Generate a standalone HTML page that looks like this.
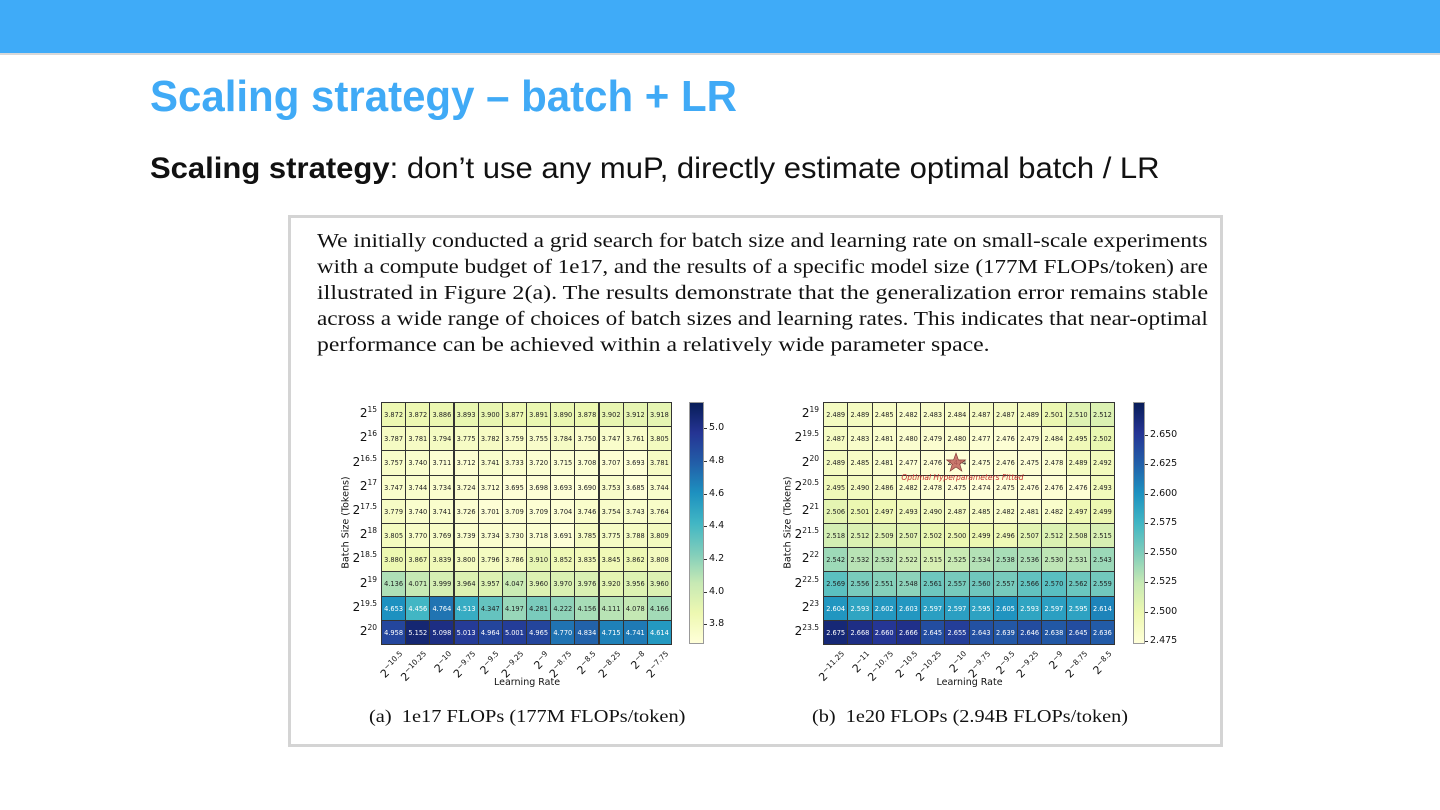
<!DOCTYPE html>
<html><head><meta charset="utf-8">
<style>
body{margin:0;width:1440px;height:810px;background:#fff;position:relative;overflow:hidden;font-family:"Liberation Sans",sans-serif}
.bar{position:absolute;left:0;top:0;width:1440px;height:53px;background:#3fabf8;border-bottom:2px solid #d8d8d8}
.fit{position:absolute;white-space:nowrap;transform-origin:0 50%}
.box{position:absolute;left:288px;top:215px;width:929px;height:526px;border:3px solid #d4d4d4}
.p{font-family:"Liberation Serif",serif;font-size:20px;color:#111}
.cell{position:absolute;box-sizing:border-box;border:1px solid #333;font-size:6.6px;text-align:center;font-family:"DejaVu Sans",sans-serif}
.yl{position:absolute;font-size:12px;font-family:"DejaVu Sans",sans-serif;text-align:right;color:#111}
.yl sup{font-size:7.5px}
.xl{position:absolute;font-size:11px;font-family:"DejaVu Sans",sans-serif;white-space:nowrap;transform-origin:100% 0;transform:rotate(-45deg);color:#111}
.xl sup{font-size:7.5px}
.ax{position:absolute;font-size:9.5px;font-family:"DejaVu Sans",sans-serif;color:#111;white-space:nowrap}
.cb{position:absolute;border:1px solid #999;box-sizing:border-box}
.ct{position:absolute;font-size:9.5px;font-family:"DejaVu Sans",sans-serif;color:#111}
.cap{font-family:"Liberation Serif",serif;font-size:18px;color:#111}
</style></head><body>
<div class="bar"></div>
<div class="fit" data-w="587" style="left:150px;top:72px;font-size:44px;font-weight:bold;color:#40aaf6">Scaling strategy – batch + LR</div>
<div class="fit" data-w="1010" style="left:150px;top:152px;font-size:30px;color:#111"><b>Scaling strategy</b>: don’t use any muP, directly estimate optimal batch / LR</div>
<div class="box"></div>
<div class="fit p" data-w="891" style="left:317px;top:230px">We initially conducted a grid search for batch size and learning rate on small-scale experiments</div>
<div class="fit p" data-w="891" style="left:317px;top:256px">with a compute budget of 1e17, and the results of a specific model size (177M FLOPs/token) are</div>
<div class="fit p" data-w="891" style="left:317px;top:282px">illustrated in Figure 2(a). The results demonstrate that the generalization error remains stable</div>
<div class="fit p" data-w="891" style="left:317px;top:308px">across a wide range of choices of batch sizes and learning rates. This indicates that near-optimal</div>
<div class="fit p" data-w="672" style="left:317px;top:334px">performance can be achieved within a relatively wide parameter space.</div>
<div id="charts"></div>
<div class="fit cap" data-w="317" style="left:369px;top:706px">(a)&nbsp; 1e17 FLOPs (177M FLOPs/token)</div>
<div class="fit cap" data-w="316" style="left:812px;top:706px">(b)&nbsp; 1e20 FLOPs (2.94B FLOPs/token)</div>
<script>
const C=[[255,255,217],[237,248,177],[199,233,180],[127,205,187],[65,182,196],[29,145,192],[34,94,168],[37,52,148],[8,29,88]];
function cm(t){t=Math.max(0,Math.min(1,t))*8;const i=Math.min(7,Math.floor(t)),f=t-i;const a=C[i],b=C[i+1];return 'rgb('+a.map((v,k)=>Math.round(v+(b[k]-v)*f)).join(',')+')';}
const A={x0:381,x1:671,y0:402,y1:644,cbx:689,cbw:15,vmin:3.68,vmax:5.16,
ticks:[3.8,4.0,4.2,4.4,4.6,4.8,5.0],tf:1,
rows:['15','16','16.5','17','17.5','18','18.5','19','19.5','20'],
cols:['−10.5','−10.25','−10','−9.75','−9.5','−9.25','−9','−8.75','−8.5','−8.25','−8','−7.75'],
d:`3.872 3.872 3.886 3.893 3.900 3.877 3.891 3.890 3.878 3.902 3.912 3.918
3.787 3.781 3.794 3.775 3.782 3.759 3.755 3.784 3.750 3.747 3.761 3.805
3.757 3.740 3.711 3.712 3.741 3.733 3.720 3.715 3.708 3.707 3.693 3.781
3.747 3.744 3.734 3.724 3.712 3.695 3.698 3.693 3.690 3.753 3.685 3.744
3.779 3.740 3.741 3.726 3.701 3.709 3.709 3.704 3.746 3.754 3.743 3.764
3.805 3.770 3.769 3.739 3.734 3.730 3.718 3.691 3.785 3.775 3.788 3.809
3.880 3.867 3.839 3.800 3.796 3.786 3.910 3.852 3.835 3.845 3.862 3.808
4.136 4.071 3.999 3.964 3.957 4.047 3.960 3.970 3.976 3.920 3.956 3.960
4.653 4.456 4.764 4.513 4.347 4.197 4.281 4.222 4.156 4.111 4.078 4.166
4.958 5.152 5.098 5.013 4.964 5.001 4.965 4.770 4.834 4.715 4.741 4.614`};
const B={x0:823,x1:1114,y0:402,y1:644,cbx:1133,cbw:12,vmin:2.4725,vmax:2.6775,
ticks:[2.475,2.5,2.525,2.55,2.575,2.6,2.625,2.65],tf:3,
rows:['19','19.5','20','20.5','21','21.5','22','22.5','23','23.5'],
cols:['−11.25','−11','−10.75','−10.5','−10.25','−10','−9.75','−9.5','−9.25','−9','−8.75','−8.5'],
d:`2.489 2.489 2.485 2.482 2.483 2.484 2.487 2.487 2.489 2.501 2.510 2.512
2.487 2.483 2.481 2.480 2.479 2.480 2.477 2.476 2.479 2.484 2.495 2.502
2.489 2.485 2.481 2.477 2.476 2.474 2.475 2.476 2.475 2.478 2.489 2.492
2.495 2.490 2.486 2.482 2.478 2.475 2.474 2.475 2.476 2.476 2.476 2.493
2.506 2.501 2.497 2.493 2.490 2.487 2.485 2.482 2.481 2.482 2.497 2.499
2.518 2.512 2.509 2.507 2.502 2.500 2.499 2.496 2.507 2.512 2.508 2.515
2.542 2.532 2.532 2.522 2.515 2.525 2.534 2.538 2.536 2.530 2.531 2.543
2.569 2.556 2.551 2.548 2.561 2.557 2.560 2.557 2.566 2.570 2.562 2.559
2.604 2.593 2.602 2.603 2.597 2.597 2.595 2.605 2.593 2.597 2.595 2.614
2.675 2.668 2.660 2.666 2.645 2.655 2.643 2.639 2.646 2.638 2.645 2.636`};
let h='';
function draw(P,star){
 const rows=P.d.trim().split('\n').map(r=>r.trim().split(/\s+/));
 const cw=(P.x1-P.x0)/12,ch=(P.y1-P.y0)/10;
 rows.forEach((r,i)=>r.forEach((v,j)=>{const t=(+v-P.vmin)/(P.vmax-P.vmin);
  h+=`<div class="cell" style="left:${(P.x0+j*cw).toFixed(1)}px;top:${(P.y0+i*ch).toFixed(1)}px;width:${(cw+1).toFixed(1)}px;height:${(ch+1).toFixed(1)}px;line-height:${ch}px;background:${cm(t*0.95)};color:${t>0.5?'#fff':'#222'}">${v}</div>`;}));
 P.rows.forEach((r,i)=>{h+=`<div class="yl" style="left:${P.x0-60}px;width:56px;top:${(P.y0+i*ch+ch/2-9).toFixed(1)}px">2<sup>${r}</sup></div>`;});
 P.cols.forEach((c,j)=>{h+=`<div class="xl" style="right:${(1440-(P.x0+j*cw+cw/2+5)).toFixed(1)}px;top:${P.y1+5}px">2<sup>${c}</sup></div>`;});
 h+=`<div class="ax" style="left:${(P.x0+P.x1)/2-32}px;top:${P.y1+33}px">Learning Rate</div>`;
 h+=`<div class="ax" style="left:${P.x0-95}px;top:${(P.y0+P.y1)/2-6}px;transform:rotate(-90deg);transform-origin:50% 50%;width:120px;text-align:center">Batch Size (Tokens)</div>`;
 let g=[];for(let k=0;k<=8;k++)g.push(cm(1-k/8)+' '+(k*12.5)+'%');
 h+=`<div class="cb" style="left:${P.cbx}px;top:${P.y0}px;width:${P.cbw}px;height:${P.y1-P.y0}px;background:linear-gradient(${g.join(',')})"></div>`;
 P.ticks.forEach(t=>{const y=P.y1-(t-P.vmin)/(P.vmax-P.vmin)*(P.y1-P.y0);
  h+=`<div style="position:absolute;left:${P.cbx+P.cbw}px;top:${y.toFixed(1)}px;width:3px;height:1px;background:#333"></div><div class="ct" style="left:${P.cbx+P.cbw+5}px;top:${(y-6).toFixed(1)}px">${t.toFixed(P.tf)}</div>`;});
 if(star){const sx=P.x0+5.5*cw,sy=P.y0+2.5*ch;
  h+=`<svg style="position:absolute;left:${sx-11}px;top:${sy-11}px" width="22" height="22" viewBox="-11 -11 22 22"><polygon points="0,-10 2.4,-3.2 9.5,-3.1 3.8,1.2 5.9,8.1 0,4 -5.9,8.1 -3.8,1.2 -9.5,-3.1 -2.4,-3.2" fill="#c0605a" fill-opacity="0.85" stroke="#7a3030" stroke-width="0.6"/></svg>`;
  h+=`<div style="position:absolute;left:${sx-55}px;top:${sy+10}px;font-size:7.5px;font-style:italic;color:#c83030;font-family:'DejaVu Sans',sans-serif;white-space:nowrap">Optimal Hyperparameters Fitted</div>`;}
}
draw(A,false);draw(B,true);
document.getElementById('charts').innerHTML=h;
document.querySelectorAll('.fit').forEach(e=>{const w=+e.dataset.w;if(w){e.style.transform='scaleX('+(w/e.scrollWidth)+')';}});
</script>
</body></html>
